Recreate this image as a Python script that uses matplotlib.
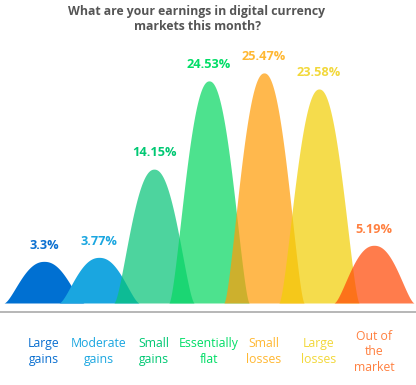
import numpy as np
import matplotlib
matplotlib.use("Agg")
import matplotlib.pyplot as plt

# survey data
categories = ["Large\ngains", "Moderate\ngains", "Small\ngains", "Essentially\nflat",
              "Small\nlosses", "Large\nlosses", "Out of\nthe\nmarket"]
shares = [3.3, 3.77, 14.15, 24.53, 25.47, 23.58, 5.19]

# styling
fill_colors = ["#0070d2", "#1aa6e0", "#08c479", "#08d763", "#ff9d08", "#f2cf07", "#ff4a07"]
fill_alpha = [1.0, 1.0, 0.72, 0.72, 0.72, 0.72, 0.72]
text_colors = ["#0a6fd0", "#1aa6e0", "#00c873", "#00dd66", "#ffb833", "#f2d83a", "#ff8040"]

FONT = ["Open Sans", "DejaVu Sans"]
BASE = -1.6        # bells start a bit below zero, like the original
HALF_WIDTH = 0.73  # half width of a bell, in category units
PX_PER_UNIT = 8.5

fig = plt.figure(figsize=(4.16, 3.85), dpi=100)
fig.patch.set_facecolor("white")
ax = fig.add_axes([0, 82 / 385, 1, 243 / 385])

t = np.linspace(-1, 1, 301)
bell = (1 - np.abs(t) ** 2.2) ** 1.6

for i, (v, fc, a, tc) in enumerate(zip(shares, fill_colors, fill_alpha, text_colors)):
    x = i + t * HALF_WIDTH
    y = BASE + (v - BASE) * bell
    ax.fill_between(x, BASE, y, color=fc, alpha=a, lw=0, zorder=i + 1)
    ax.annotate(f"{v:g}%", xy=(i, v), xytext=(0, 7), textcoords="offset points",
                ha="center", va="bottom", color=tc, fontsize=9.2,
                fontweight="bold", family=FONT)
    ax.annotate(categories[i], xy=(i, 0), xycoords=ax.get_xaxis_transform(),
                xytext=(0, -35), textcoords="offset points",
                ha="center", va="center", color=tc, fontsize=8.8,
                family=FONT, linespacing=1.25)

ax.set_xlim(-0.8, 6.764)
ax.set_ylim(BASE, BASE + 243 / PX_PER_UNIT)
ax.set_xticks([])
ax.set_yticks([])
for side in ["left", "right", "top"]:
    ax.spines[side].set_visible(False)
ax.spines["bottom"].set_position(("outward", 6.5))
ax.spines["bottom"].set_color("#aaaaaa")
ax.spines["bottom"].set_linewidth(1.2)
ax.patch.set_alpha(0)

fig.text(197 / 416, 1 - 5 / 385,
         "What are your earnings in digital currency\nmarkets this month?",
         ha="center", va="top", fontsize=8.8, fontweight="bold",
         color="#555555", family=FONT, linespacing=1.2)

fig.savefig("out.png", dpi=100, facecolor="white")
